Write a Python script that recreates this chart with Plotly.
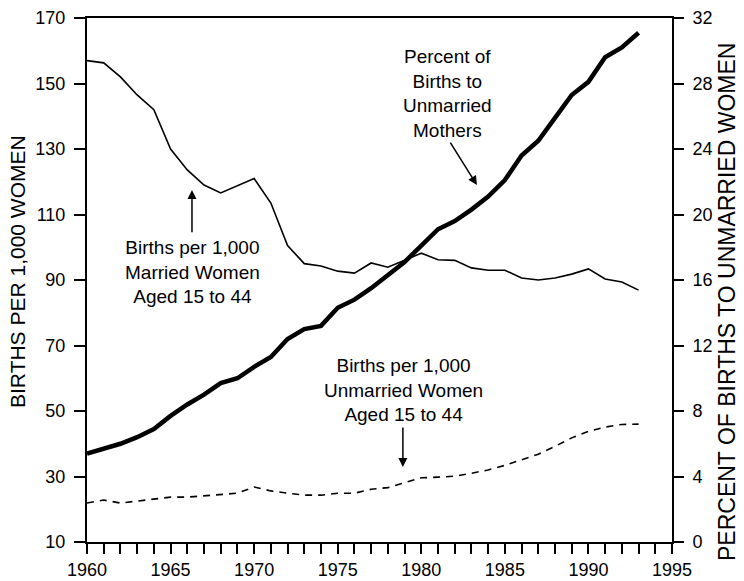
import plotly.graph_objects as go

years = list(range(1960, 1994))

married_rate = [157.0, 156.3, 152.0, 146.5, 142.0, 130.0, 123.6, 119.0, 116.6, 118.8,
                121.0, 113.5, 100.5, 95.0, 94.3, 92.7, 92.1, 95.2, 93.9, 96.0,
                98.2, 96.2, 96.0, 93.7, 93.0, 93.0, 90.6, 90.0, 90.6, 91.8,
                93.4, 90.3, 89.4, 86.9]

unmarried_rate = [21.9, 22.8, 21.9, 22.5, 23.2, 23.7, 23.7, 24.1, 24.6, 24.9,
                  26.8, 25.6, 24.9, 24.3, 24.3, 24.9, 24.9, 26.1, 26.6, 28.0,
                  29.6, 29.8, 30.1, 31.0, 32.0, 33.4, 35.0, 36.8, 39.2, 41.8,
                  43.8, 45.1, 45.9, 46.0]

pct_unmarried = [5.4, 5.7, 6.0, 6.4, 6.9, 7.7, 8.4, 9.0, 9.7, 10.0,
                 10.7, 11.3, 12.4, 13.0, 13.2, 14.3, 14.8, 15.5, 16.3, 17.1,
                 18.1, 19.1, 19.6, 20.3, 21.1, 22.1, 23.6, 24.5, 25.9, 27.3,
                 28.1, 29.6, 30.2, 31.1]

x_ticks = [1960, 1965, 1970, 1975, 1980, 1985, 1990, 1995]
left_ticks = [10, 30, 50, 70, 90, 110, 130, 150, 170]
right_ticks = [0, 4, 8, 12, 16, 20, 24, 28, 32]

FONT = "Liberation Sans, Arial, Helvetica, sans-serif"

fig = go.Figure()
fig.add_trace(go.Scatter(x=years, y=married_rate, mode="lines",
                         line=dict(color="black", width=1.6), yaxis="y"))
fig.add_trace(go.Scatter(x=years, y=unmarried_rate, mode="lines",
                         line=dict(color="black", width=1.6, dash="7px,6px"), yaxis="y"))
fig.add_trace(go.Scatter(x=years, y=pct_unmarried, mode="lines",
                         line=dict(color="black", width=4.5), yaxis="y2"))

fig.update_layout(
    width=744, height=581,
    margin=dict(l=87, r=72, t=18, b=39, autoexpand=False),
    paper_bgcolor="white", plot_bgcolor="white",
    showlegend=False,
    font=dict(family=FONT, size=18, color="black"),
    xaxis=dict(range=[1960, 1995], tickvals=x_ticks, ticks="outside", ticklen=10,
               tickwidth=1.5, tickcolor="black", showline=True, linecolor="black",
               linewidth=2, mirror=True, showgrid=False, zeroline=False, automargin=False,
               minor=dict(dtick=1, tick0=1960, ticks="outside", ticklen=10,
                          tickwidth=1.5, tickcolor="black", showgrid=False),
               tickfont=dict(size=18)),
    yaxis=dict(range=[10, 170], tickvals=left_ticks, ticks="outside", ticklen=11,
               tickwidth=1.5, tickcolor="black", showline=True, linecolor="black",
               linewidth=2, showgrid=False, zeroline=False, automargin=False,
               ticklabelstandoff=5, tickfont=dict(size=18)),
    yaxis2=dict(range=[0, 32], tickvals=right_ticks, ticks="outside", ticklen=10,
                tickwidth=1.5, tickcolor="black", showline=True, linecolor="black",
                linewidth=2, showgrid=False, zeroline=False, overlaying="y",
                side="right", automargin=False, ticklabelstandoff=5,
                tickfont=dict(size=18)),
)

ann = []
# axis titles
ann.append(dict(text="BIRTHS PER 1,000 WOMEN", xref="paper", yref="paper",
                x=(17 - 87) / 585, y=(542 - 272) / 524, textangle=-90, showarrow=False,
                font=dict(size=21), xanchor="center", yanchor="middle"))
ann.append(dict(text="PERCENT OF BIRTHS TO UNMARRIED WOMEN", xref="paper", yref="paper",
                x=(727 - 87) / 585, y=(542 - 302) / 524, textangle=-90, showarrow=False,
                font=dict(size=23), xanchor="center", yanchor="middle"))
# labels
ann.append(dict(text="Percent of<br>Births to<br>Unmarried<br>Mothers", x=1981.54, y=146.8,
                xref="x", yref="y", showarrow=False, font=dict(size=19), align="center"))
ann.append(dict(text="Births per 1,000<br>Married Women<br>Aged 15 to 44", x=1966.34, y=92.3,
                xref="x", yref="y", showarrow=False, font=dict(size=19), align="center"))
ann.append(dict(text="Births per 1,000<br>Unmarried Women<br>Aged 15 to 44", x=1978.94, y=56.4,
                xref="x", yref="y", showarrow=False, font=dict(size=19), align="center"))
# arrows
arrow_style = dict(text="", showarrow=True, arrowhead=2, arrowsize=1.2, arrowwidth=1.5,
                   arrowcolor="black", xref="x", yref="y", axref="x", ayref="y",
                   font=dict(size=1), borderpad=0)
ann.append(dict(x=1983.33, y=119.0, ax=1981.72, ay=132.1, **arrow_style))
ann.append(dict(x=1966.28, y=117.5, ax=1966.28, ay=104.4, **arrow_style))
ann.append(dict(x=1978.9, y=32.9, ax=1978.9, ay=45.1, **arrow_style))

fig.update_layout(annotations=ann)
fig.write_html("out.html", config={"displayModeBar": False},
               post_script="document.body.style.margin='0';document.body.style.padding='0';")
